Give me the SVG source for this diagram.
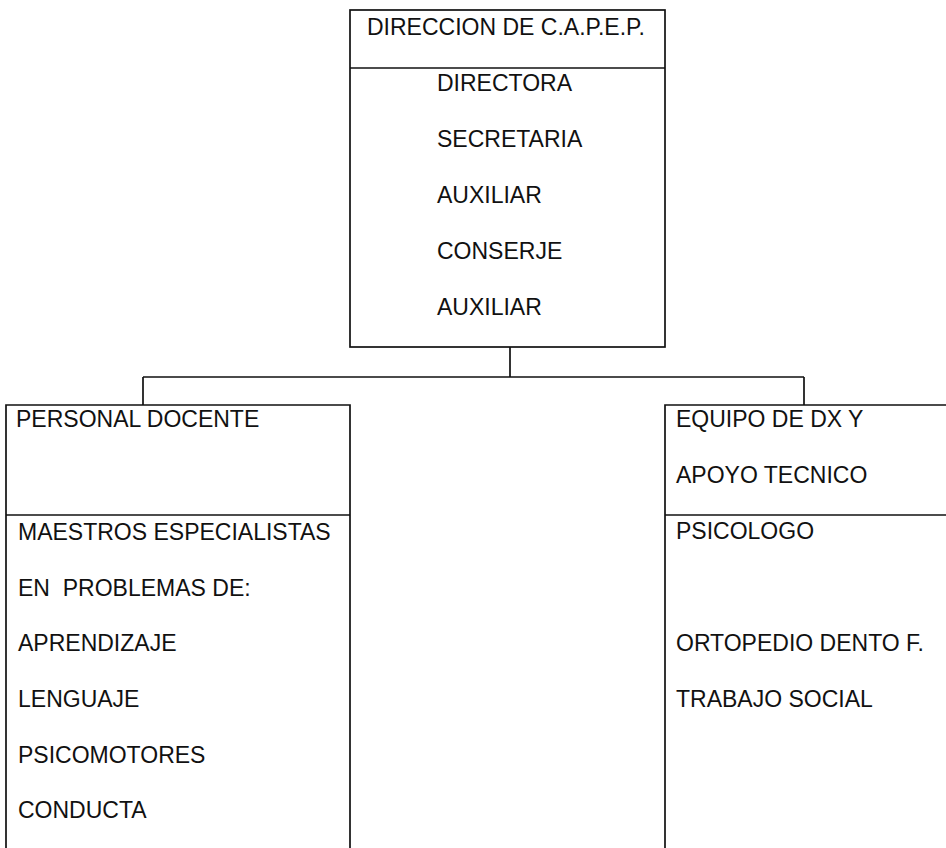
<svg xmlns="http://www.w3.org/2000/svg" width="946" height="848" viewBox="0 0 946 848">
<style>
.box{fill:none;stroke:#111;stroke-width:1.7}
.ln{fill:none;stroke:#111;stroke-width:1.7}
text{font-family:"Liberation Sans",Arial,sans-serif;font-size:23px;fill:#111}
.pre{white-space:pre}
</style>
<rect width="946" height="848" fill="#fff"/>
<g id="connectors">
<path class="ln" d="M510 347 V377 M143 377 H804 M143 377 V405 M804 377 V405"/>
</g>
<g id="direccion">
<rect class="box" x="350" y="10" width="315" height="337"/>
<line class="ln" x1="350" y1="68" x2="665" y2="68"/>
<text x="367" y="35" font-size="23.5">DIRECCION DE C.A.P.E.P.</text>
<text x="437" y="91">DIRECTORA</text>
<text x="437" y="147">SECRETARIA</text>
<text x="437" y="203">AUXILIAR</text>
<text x="437" y="259">CONSERJE</text>
<text x="437" y="315">AUXILIAR</text>
</g>
<g id="personal-docente">
<path class="ln" d="M6 850 V405 H350 V850"/>
<line class="ln" x1="6" y1="515" x2="350" y2="515"/>
<text x="16" y="427">PERSONAL DOCENTE</text>
<text x="18" y="540">MAESTROS ESPECIALISTAS</text>
<text x="18" y="596" class="pre" xml:space="preserve">EN  PROBLEMAS DE:</text>
<text x="18" y="651">APRENDIZAJE</text>
<text x="18" y="707">LENGUAJE</text>
<text x="18" y="763">PSICOMOTORES</text>
<text x="18" y="818">CONDUCTA</text>
</g>
<g id="equipo-dx">
<path class="ln" d="M665 850 V405 H948"/>
<line class="ln" x1="665" y1="515" x2="948" y2="515"/>
<text x="676" y="427">EQUIPO DE DX Y</text>
<text x="676" y="483">APOYO TECNICO</text>
<text x="676" y="539">PSICOLOGO</text>
<text x="676" y="651">ORTOPEDIO DENTO F.</text>
<text x="676" y="707">TRABAJO SOCIAL</text>
</g>
</svg>
